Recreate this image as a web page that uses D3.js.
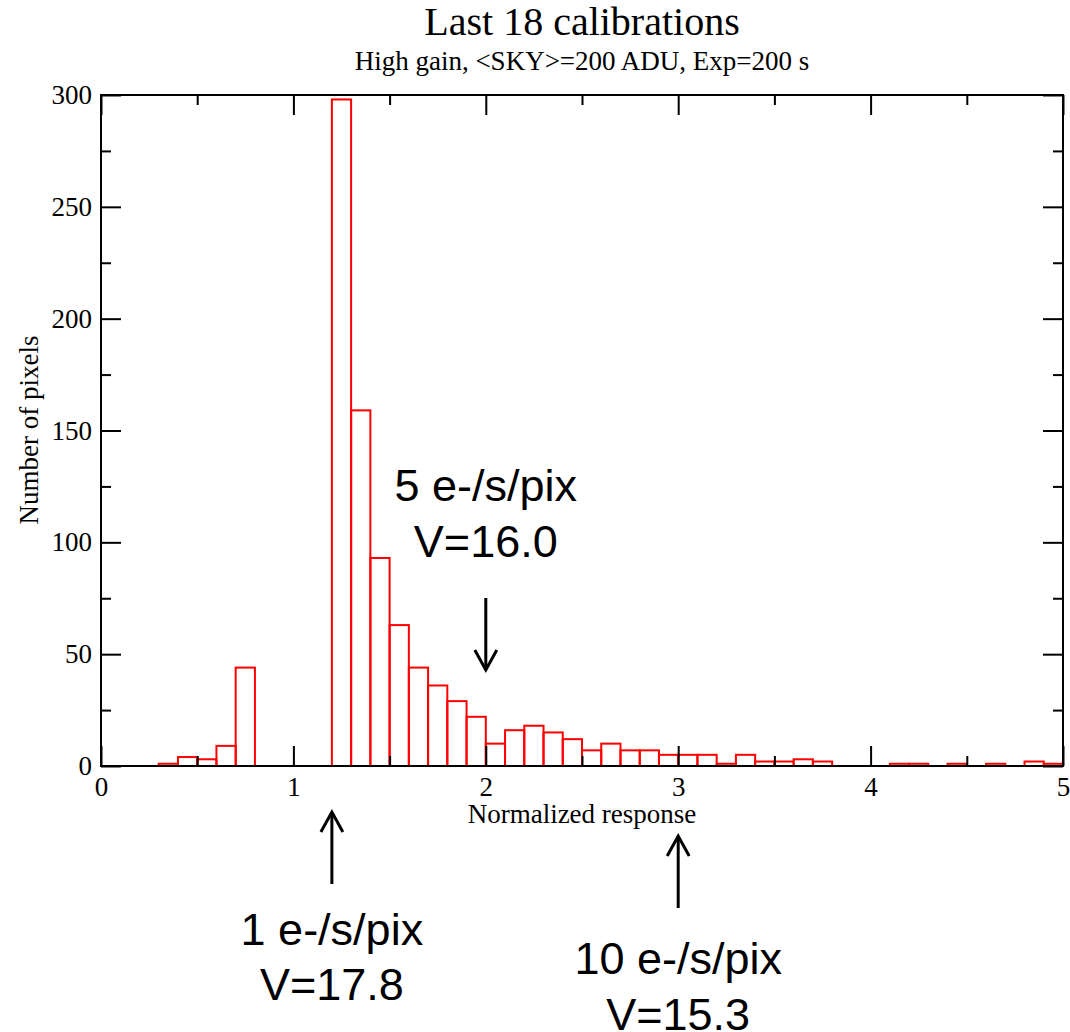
<!DOCTYPE html>
<html lang="en">
<head>
    <meta charset="UTF-8">
    <title>Last 18 calibrations</title>
    <script src="https://cdn.jsdelivr.net/npm/d3@7/dist/d3.min.js"></script>
    <style>
        body { margin: 0; background: #fff; }
        .frame line, .frame path { stroke: #000; }
        .serif { font-family: "Liberation Serif", "Times New Roman", serif; fill: #000; }
        .note { font-family: "Liberation Sans", Arial, sans-serif; fill: #000; }
    </style>
</head>
<body>
    <svg width=1070 height=1032></svg>
    <script>
        // histogram bins (left edge, width 0.1) and pixel counts
        var binStart = [0.3, 0.4, 0.5, 0.6, 0.7, 1.2, 1.3, 1.4, 1.5, 1.6, 1.7, 1.8, 1.9,
                        2.0, 2.1, 2.2, 2.3, 2.4, 2.5, 2.6, 2.7, 2.8, 2.9, 3.0, 3.1, 3.2,
                        3.3, 3.4, 3.5, 3.6, 3.7, 4.1, 4.2, 4.4, 4.6, 4.8, 4.9];
        var counts = [1, 4, 3, 9, 44, 298, 159, 93, 63, 44, 36, 29, 22,
                      10, 16, 18, 15, 12, 7, 10, 7, 7, 5, 5, 5, 1,
                      5, 2, 2, 3, 2, 1, 1, 1, 1, 2, 1];
        var binWidth = 0.1;

        var xTicks = [0, 1, 2, 3, 4, 5],
            xMinor = [0.5, 1.5, 2.5, 3.5, 4.5],
            yTicks = [0, 50, 100, 150, 200, 250, 300],
            yMinor = [25, 75, 125, 175, 225, 275];

        // annotation labels: x position in data units, text lines, arrow direction
        var notes = [
            { x: 2.0, lines: ['5 e-/s/pix', 'V=16.0'], dir: 'down' },
            { x: 1.2, lines: ['1 e-/s/pix', 'V=17.8'], dir: 'up' },
            { x: 3.0, lines: ['10 e-/s/pix', 'V=15.3'], dir: 'up' }
        ];

        var svg = d3.select('svg'),
            margin = { top: 95, left: 101, right: 7, bottom: 266 },
            width = 1070 - margin.left - margin.right,
            height = 1032 - margin.top - margin.bottom;

        var xScale = d3.scaleLinear().domain([0, 5]).range([0, width]),
            yScale = d3.scaleLinear().domain([0, 300]).range([height, 0]);

        var chartG = svg.append('g')
            .attr('transform', 'translate(' + [margin.left, margin.top] + ')');

        var bins = binStart.map(function(d, i) { return { x0: d, x1: d + binWidth, n: counts[i] }; });

        chartG.selectAll('rect.bar')
            .data(bins)
            .enter().append('rect')
            .classed('bar', true)
            .attr('x', function(d) { return xScale(d.x0); })
            .attr('width', function(d) { return xScale(d.x1) - xScale(d.x0); })
            .attr('y', function(d) { return yScale(d.n); })
            .attr('height', function(d) { return height - yScale(d.n); })
            .attr('fill', 'none')
            .attr('stroke', '#ff0000')
            .attr('stroke-width', 2);

        function styleAxis(g) {
            g.select('.domain').remove();
            g.selectAll('.tick line').attr('stroke', '#000').attr('stroke-width', 2);
            g.selectAll('.tick text')
                .attr('class', 'serif')
                .style('font-size', '27px');
        }

        var frame = chartG.append('g').classed('frame', true);

        // major + minor ticks, all pointing inward
        frame.append('g')
            .attr('transform', 'translate(' + [0, height] + ')')
            .call(d3.axisBottom(xScale).tickValues(xTicks).tickSize(-20).tickPadding(11).tickFormat(d3.format('d')))
            .call(styleAxis);
        frame.append('g')
            .attr('transform', 'translate(' + [0, height] + ')')
            .call(d3.axisBottom(xScale).tickValues(xMinor).tickSize(-10).tickFormat(''))
            .call(styleAxis);
        frame.append('g')
            .call(d3.axisTop(xScale).tickValues(xTicks).tickSize(-20).tickFormat(''))
            .call(styleAxis);
        frame.append('g')
            .call(d3.axisTop(xScale).tickValues(xMinor).tickSize(-10).tickFormat(''))
            .call(styleAxis);
        frame.append('g')
            .call(d3.axisLeft(yScale).tickValues(yTicks).tickSize(-20).tickPadding(9).tickFormat(d3.format('d')))
            .call(styleAxis);
        frame.append('g')
            .call(d3.axisLeft(yScale).tickValues(yMinor).tickSize(-10).tickFormat(''))
            .call(styleAxis);
        frame.append('g')
            .attr('transform', 'translate(' + [width, 0] + ')')
            .call(d3.axisRight(yScale).tickValues(yTicks).tickSize(-20).tickFormat(''))
            .call(styleAxis);
        frame.append('g')
            .attr('transform', 'translate(' + [width, 0] + ')')
            .call(d3.axisRight(yScale).tickValues(yMinor).tickSize(-10).tickFormat(''))
            .call(styleAxis);

        frame.append('rect')
            .attr('width', width)
            .attr('height', height)
            .attr('fill', 'none')
            .attr('stroke', '#000')
            .attr('stroke-width', 2);

        // titles
        svg.append('text').attr('class', 'serif')
            .attr('x', margin.left + width / 2).attr('y', 35)
            .attr('text-anchor', 'middle').style('font-size', '40px')
            .text('Last 18 calibrations');
        svg.append('text').attr('class', 'serif')
            .attr('x', margin.left + width / 2).attr('y', 70)
            .attr('text-anchor', 'middle').style('font-size', '27px')
            .text('High gain, <SKY>=200 ADU, Exp=200 s');
        svg.append('text').attr('class', 'serif')
            .attr('x', margin.left + width / 2).attr('y', 823)
            .attr('text-anchor', 'middle').style('font-size', '27px')
            .text('Normalized response');
        svg.append('text').attr('class', 'serif')
            .attr('transform', 'translate(38,430) rotate(-90)')
            .attr('text-anchor', 'middle').style('font-size', '27px')
            .text('Number of pixels');

        // annotations with arrows
        var arrowLen = 72,
            headX = 11, headY = 20;

        notes.forEach(function(d) {
            var cx = margin.left + xScale(d.x),
                g = svg.append('g'),
                tip, tail, textY;
            if (d.dir === 'down') {
                tip = 670; tail = tip - arrowLen; textY = [501, 557];
            } else {
                tip = d.x < 2 ? 812 : 836;
                tail = tip + arrowLen;
                textY = d.x < 2 ? [945, 1000] : [974, 1030];
            }
            var s = d.dir === 'down' ? -1 : 1;
            g.append('line')
                .attr('x1', cx).attr('x2', cx)
                .attr('y1', tail).attr('y2', tip)
                .attr('stroke', '#000').attr('stroke-width', 3);
            g.append('path')
                .attr('d', 'M' + (cx - headX) + ',' + (tip + s * headY) + 'L' + cx + ',' + tip + 'L' + (cx + headX) + ',' + (tip + s * headY))
                .attr('fill', 'none').attr('stroke', '#000').attr('stroke-width', 3);
            d.lines.forEach(function(t, i) {
                g.append('text').attr('class', 'note')
                    .attr('x', cx).attr('y', textY[i])
                    .attr('text-anchor', 'middle').style('font-size', '45px')
                    .text(t);
            });
        });
    </script>
</body>
</html>
